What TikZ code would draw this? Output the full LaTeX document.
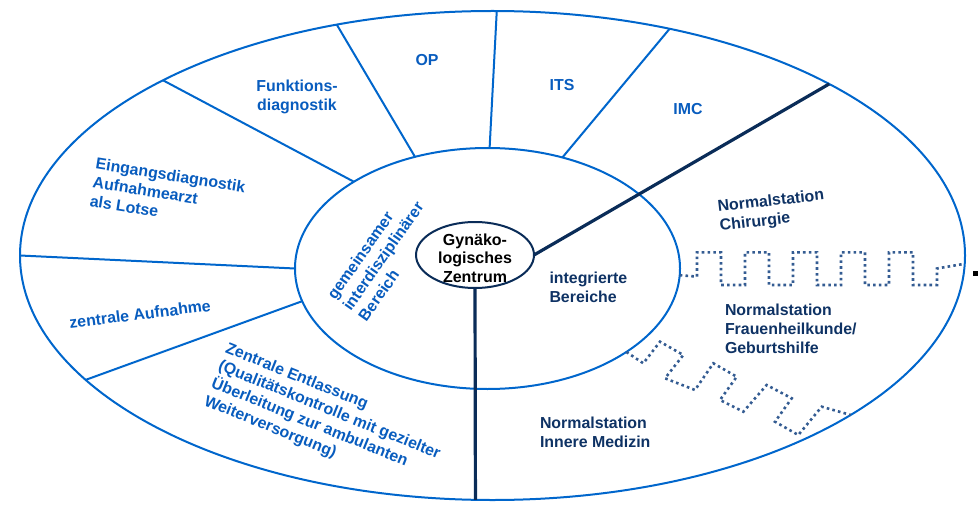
\documentclass[tikz,border=0pt]{standalone}
\usepackage{fontspec}
\setmainfont{Liberation Sans}
\usetikzlibrary{shapes.geometric}
\definecolor{lineblue}{RGB}{0,102,204}
\definecolor{textblue}{RGB}{8,92,190}
\definecolor{navy}{RGB}{14,50,100}
\definecolor{darkline}{RGB}{10,44,88}
\definecolor{dotcol}{RGB}{52,92,146}
\begin{document}
\begin{tikzpicture}[x=1pt,y=-1pt,
  every node/.style={inner sep=0pt, outer sep=0pt},
  ringshape/.style={ellipse, draw=lineblue, line width=2pt},
  divider/.style={draw=lineblue, line width=2pt},
  spoke/.style={draw=darkline, line width=3.2pt},
  wave/.style={draw=dotcol, line width=2.6pt, dash pattern=on 2.6pt off 3.2pt},
  lbl/.style={font=\bfseries\fontsize{15.9}{19}\selectfont, text=textblue, align=left},
  lbln/.style={lbl, text=navy},
]
\useasboundingbox (0,0) rectangle (979,505);
\node[ringshape, minimum width=945pt, minimum height=489pt] (outer) at (492.5,255.5) {};
\node[ringshape, minimum width=385pt, minimum height=241pt] (ring) at (487.5,268.5) {};
% dividers
\draw[divider] (ring.180.4) -- (outer.180.2);
\draw[divider] (ring.190.2) -- (outer.197.2);
\draw[divider] (ring.147.75) -- (outer.152.6);
\draw[divider] (ring.123.9) -- (outer.124.1);
\draw[divider] (ring.89.8) -- (outer.89.9);
\draw[divider] (ring.56.1) -- (outer.52.0);
% core
\node[ellipse, draw=darkline, fill=white, line width=2pt, minimum width=118pt, minimum height=66pt] (core) at (475,255) {};
\draw[spoke] (core.east) -- (outer.27.3);
\draw[spoke] (core.south) -- (outer.266.6);
% dotted waves
\draw[wave] (ring.-2.4) -- (697,276.6) -- (697,252.3) -- (721,252.3) -- (721,285) -- (745,285) -- (745,252.3) -- (769,252.3) -- (769,285) -- (793,285) -- (793,252.3) -- (817,252.3) -- (817,285) -- (841,285) -- (841,252.3) -- (865,252.3) -- (865,285) -- (889,285) -- (889,252.3) -- (913,252.3) -- (913,285) -- (937,285) -- (937,268.5) -- (outer.-1.6);
\draw[wave] (ring.-31.66) -- (643.3,363.3) -- (660,341.7) -- (683.3,355) -- (665,378.3) -- (695,390) -- (713.3,363.3) -- (736.7,376.7) -- (720,400) -- (743.3,411.7) -- (766.7,385) -- (791.7,398.3) -- (775,421.7) -- (798.3,435) -- (821.7,406.7) -- (outer.-24.81);
\node[fill=black, minimum size=5pt] (mark) at (975.5,273) {};
% labels
\node[lbl] (op) at (427,60) {OP};
\node[lbl] (its) at (562,85) {ITS};
\node[lbl] (imc) at (688,109) {IMC};
\node[lbl, align=center] (fd) at (297,97) {Funktions-\\diagnostik};
\node[lbl, rotate=-9, anchor=north west] (ein) at (97,157.5) {Eingangsdiagnostik\\Aufnahmearzt\\als Lotse};
\node[lbl, rotate=7] (za) at (140,314) {zentrale Aufnahme};
\node[lbl, rotate=-22, anchor=north west] (ze) at (229,341.5) {Zentrale Entlassung\\(Qualitätskontrolle mit gezielter\\Überleitung zur ambulanten\\Weiterversorgung)};
\node[lbl, rotate=55] (gib) at (383,256) {gemeinsamer\\interdisziplinärer\\Bereich};
\node[lbln, rotate=6.5, anchor=north west] (nc) at (717,200.5) {Normalstation\\Chirurgie};
\node[lbln, anchor=north west] (nf) at (725,304) {Normalstation\\Frauenheilkunde/\\Geburtshilfe};
\node[lbln, anchor=north west] (ni) at (540,417) {Normalstation\\Innere Medizin};
\node[lbln, anchor=north west] (ib) at (549.5,271.5) {integrierte\\Bereiche};
\node[font=\bfseries\fontsize{16}{18.5}\selectfont, align=center] (ct) at (475,258) {Gynäko-\\logisches\\Zentrum};
\end{tikzpicture}
\end{document}
